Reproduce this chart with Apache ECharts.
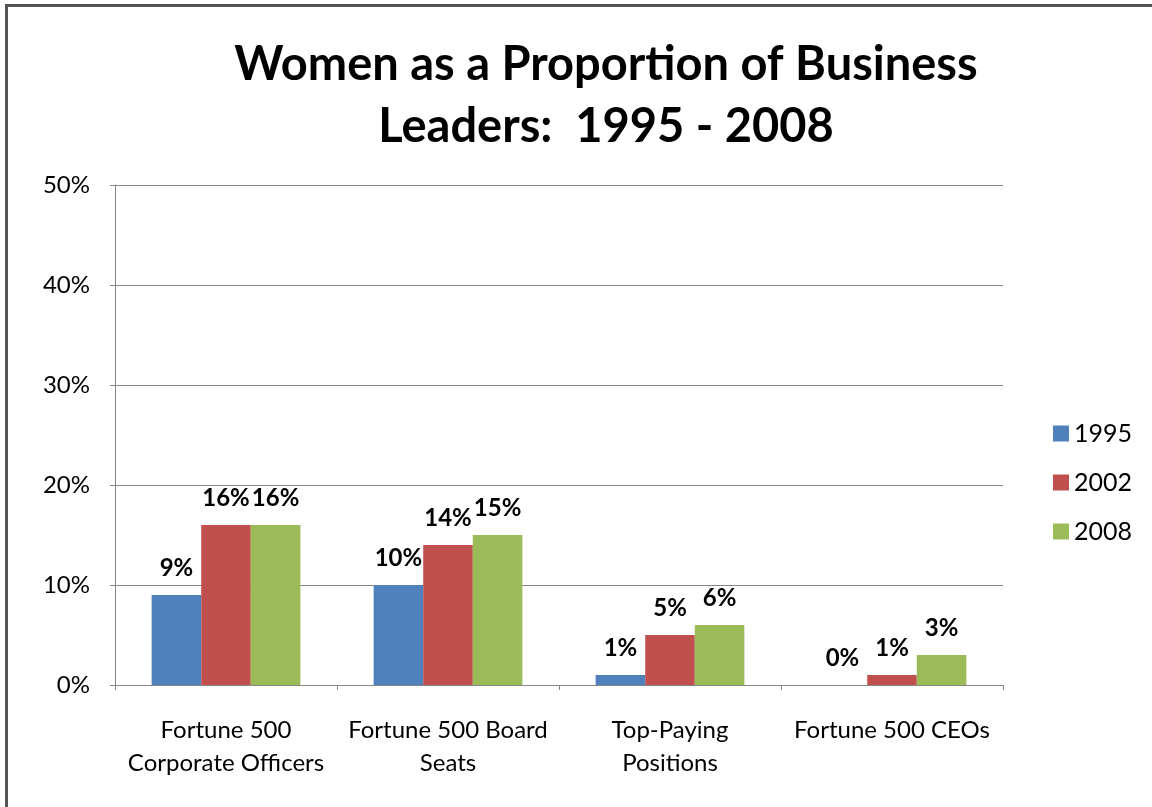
<!DOCTYPE html>
<html>
<head>
<meta charset="utf-8">
<script src="https://cdn.jsdelivr.net/npm/echarts@6/dist/echarts.min.js"></script>
<style>
  html, body { margin: 0; padding: 0; background: #fff; }
  #frame {
    position: absolute; left: 5px; top: 4px; width: 1160px; height: 820px;
    border-top: 3px solid #555; border-left: 3px solid #555;
    box-sizing: border-box;
  }
  #chart { position: absolute; left: 0; top: 0; width: 1152px; height: 807px; }
</style>
</head>
<body>
<div id="frame"></div>
<div id="chart"></div>
<script>
  // categories and values (percent)
  var categories = ['Fortune 500\nCorporate Officers', 'Fortune 500 Board\nSeats', 'Top-Paying\nPositions', 'Fortune 500 CEOs']
  var years = ['1995', '2002', '2008']
  var v1995 = [9, 10, 1, 0]
  var v2002 = [16, 14, 5, 1]
  var v2008 = [16, 15, 6, 3]
  var colors = ['#4F81BD', '#C0504D', '#9BBB59']

  var font = 'Lato, "Open Sans", sans-serif'

  var mk = function (name, data, color) {
    return {
      name: name,
      type: 'bar',
      data: data,
      barCategoryGap: '33%',
      barGap: '0%',
      itemStyle: { color: color },
      label: {
        show: true,
        position: 'top',
        distance: 15,
        formatter: '{c}%',
        fontFamily: font,
        fontWeight: 'bold',
        fontSize: 24,
        color: '#000'
      }
    }
  }

  var myChart = echarts.init(document.getElementById('chart'))
  myChart.setOption({
    animation: false,
    textStyle: { fontFamily: font },
    title: {
      text: 'Women as a Proportion of Business\nLeaders:  1995 - 2008',
      left: 601,
      top: 29,
      textAlign: 'center',
      textStyle: {
        fontFamily: font,
        fontWeight: 'bold',
        fontSize: 47,
        lineHeight: 62,
        color: '#000'
      }
    },
    legend: {
      orient: 'vertical',
      left: 1048,
      top: 416,
      itemWidth: 16,
      itemHeight: 16,
      itemGap: 24,
      icon: 'rect',
      textStyle: { fontFamily: font, fontSize: 25, color: '#000' },
      data: years
    },
    grid: { left: 115, right: 149, top: 185, bottom: 122 },
    xAxis: {
      type: 'category',
      data: categories,
      axisTick: { show: true, alignWithLabel: false, length: 5, lineStyle: { color: '#868686' } },
      axisLine: { lineStyle: { color: '#868686' } },
      axisLabel: {
        fontFamily: font,
        fontSize: 24,
        color: '#000',
        lineHeight: 33,
        margin: 29,
        interval: 0
      }
    },
    yAxis: {
      type: 'value',
      min: 0,
      max: 50,
      interval: 10,
      axisLine: { show: true, lineStyle: { color: '#868686' } },
      axisTick: { show: true, length: 5, lineStyle: { color: '#868686' } },
      splitLine: { lineStyle: { color: '#868686' } },
      axisLabel: {
        formatter: '{value}%',
        fontFamily: font,
        fontSize: 24,
        color: '#000',
        margin: 25
      }
    },
    series: [
      mk(years[0], v1995, colors[0]),
      mk(years[1], v2002, colors[1]),
      mk(years[2], v2008, colors[2])
    ]
  })
</script>
</body>
</html>
